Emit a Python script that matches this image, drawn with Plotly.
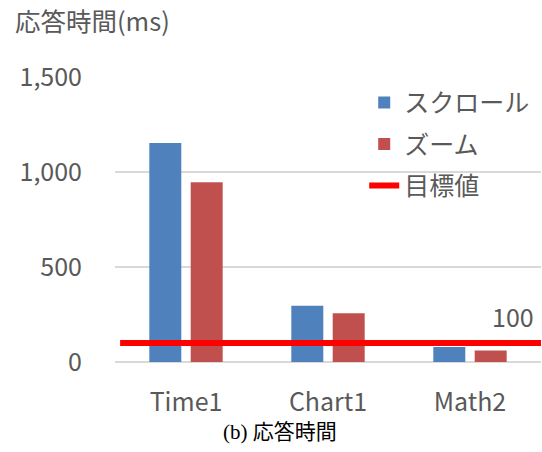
import plotly.graph_objects as go

categories = ["Time1", "Chart1", "Math2"]
scroll_ms = [1152, 296, 79]
zoom_ms = [946, 256, 60]
target_ms = 100
series_names = ["スクロール", "ズーム", "目標値"]
y_ticks = [0, 500, 1000, 1500]
y_tick_labels = ["0", "500", "1,000", "1,500"]

FONT = "Noto Sans CJK JP"
GREY = "#595959"

fig = go.Figure()
fig.add_trace(go.Bar(x=categories, y=scroll_ms, name=series_names[0],
                     marker=dict(color="#4F81BD", line=dict(width=0)),
                     legendgroup="a"))
fig.add_trace(go.Bar(x=categories, y=zoom_ms, name=series_names[1],
                     marker=dict(color="#C0504D", line=dict(width=0)),
                     legendgroup="b"))
fig.add_trace(go.Scatter(x=[0.012, 1], y=[target_ms, target_ms], name=series_names[2],
                         mode="lines", line=dict(color="#FF0000", width=6),
                         xaxis="x2", legendgroup="c"))

fig.add_annotation(x=1, y=target_ms, xref="paper", yref="y", text=str(target_ms),
                   showarrow=False, xanchor="right", yanchor="middle", yshift=27, xshift=-5,
                   font=dict(family=FONT, size=25, color=GREY))
fig.add_annotation(x=0.388, y=-0.245, xref="paper", yref="paper", text="(b) 応答時間",
                   showarrow=False, xanchor="center", yanchor="middle",
                   font=dict(family="Liberation Serif, Noto Sans CJK JP", size=21, color="#000000"))

fig.update_layout(
    width=542, height=452,
    margin=dict(l=115, r=1, t=77, b=90),
    paper_bgcolor="white", plot_bgcolor="white",
    barmode="group", bargap=0.417, bargroupgap=0.227,
    font=dict(family=FONT, color=GREY, size=25),
    title=dict(text="応答時間(ms)", xref="container", yref="container",
               x=15 / 542, xanchor="left", y=1 - 22 / 452, yanchor="middle",
               font=dict(family=FONT, size=25.5, color=GREY)),
    xaxis=dict(showgrid=False, showline=False, zeroline=False, ticks="",
               ticklabelstandoff=23,
               tickfont=dict(family=FONT, size=25, color=GREY)),
    xaxis2=dict(overlaying="x", range=[0, 1], visible=False),
    yaxis=dict(range=[0, 1500], tickvals=y_ticks, ticktext=y_tick_labels,
               showgrid=True, gridcolor="#D9D9D9", gridwidth=1.5,
               zeroline=True, zerolinecolor="#D9D9D9", zerolinewidth=1.5,
               showline=False, ticks="", ticklabelstandoff=32,
               tickfont=dict(family=FONT, size=25, color=GREY)),
    legend=dict(x=0.585, y=0.99, xanchor="left", yanchor="top",
                bgcolor="rgba(0,0,0,0)", traceorder="grouped", tracegroupgap=6,
                font=dict(family=FONT, size=25, color=GREY)),
    showlegend=True,
)

fig.write_html("out.html")
